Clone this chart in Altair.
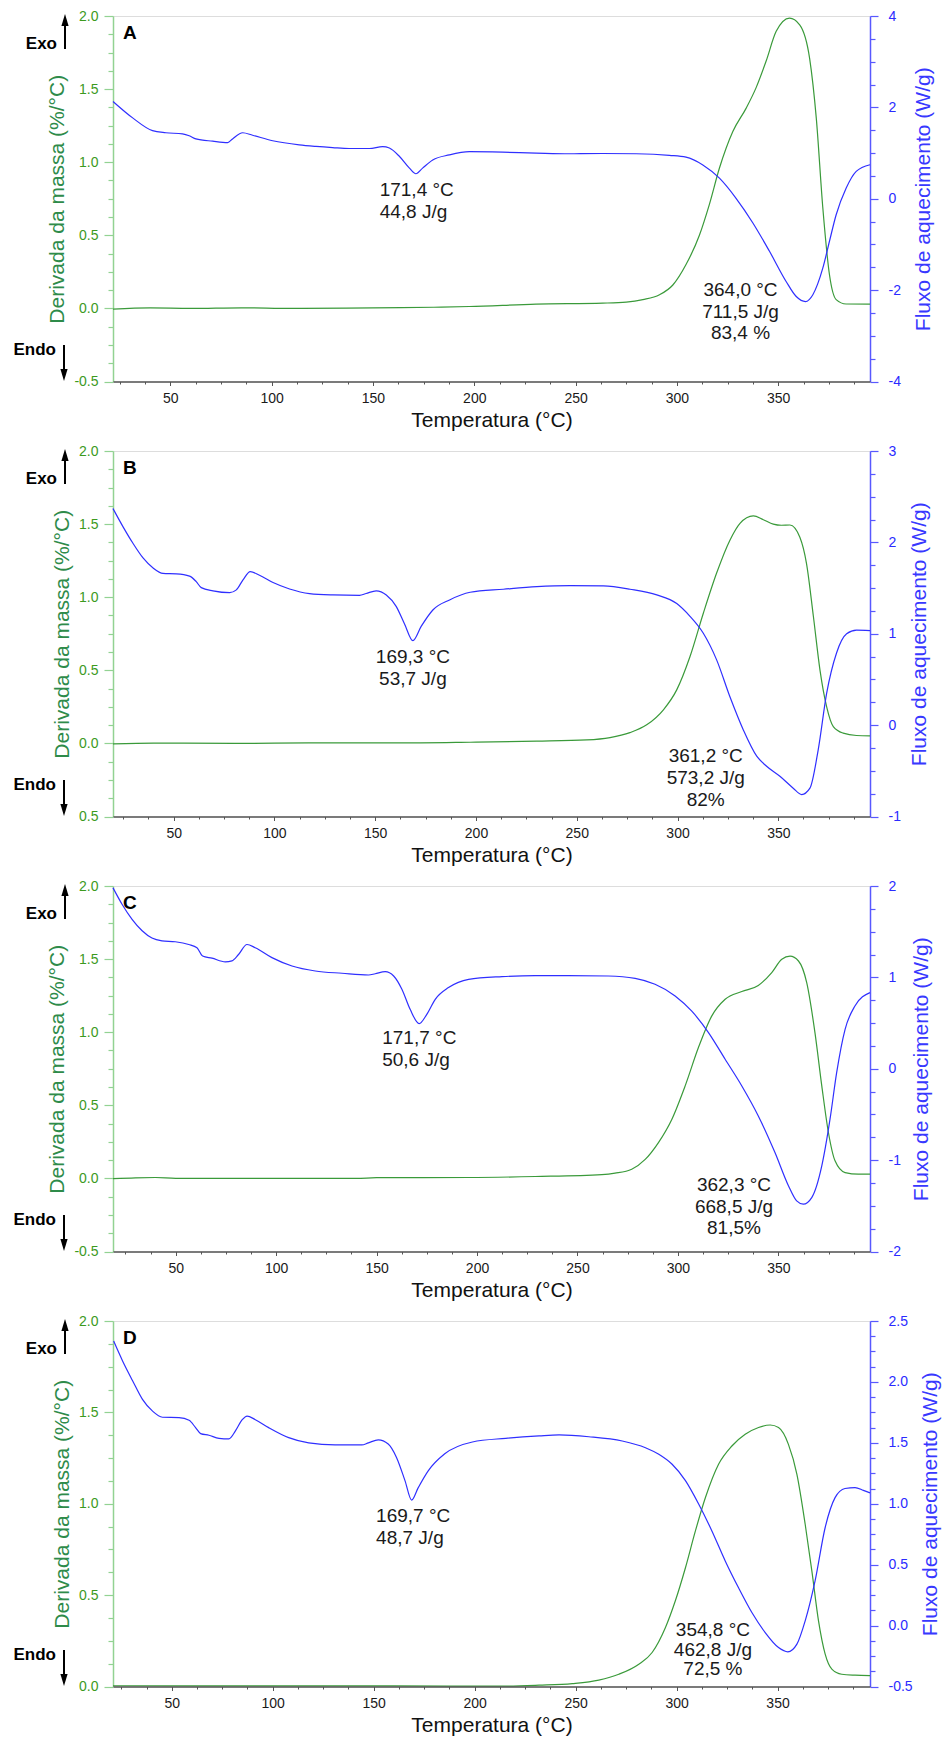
import math
import altair as alt
import pandas as pd

FONT = "Liberation Sans"

# ---------------- Panel A ----------------
A_T_DTG = [21.7, 40, 60, 85, 110, 150, 180, 197.6, 230.5, 263.4, 275, 283.2, 291.4, 298, 304.5, 311.1, 316, 321,
           327.6, 334.2, 339.1, 344, 349, 355.6, 360.6, 365.5, 368.8, 372, 375.3, 378.6, 383.5, 395.3]
A_DTG = [-0.005, 0.003, 0.0, 0.004, 0.0, 0.004, 0.008, 0.013, 0.029, 0.036, 0.043, 0.06, 0.093, 0.16, 0.30, 0.50,
         0.71, 0.96, 1.21, 1.37, 1.51, 1.69, 1.895, 1.986, 1.94, 1.71, 1.30, 0.69, 0.23, 0.06, 0.03, 0.029]
A_T_DSC = [21.7, 31.4, 41.2, 47.8, 56.0, 59.3, 62.6, 70.9, 78.3, 80.7, 85.7, 90.6, 100.5, 113.6, 121.9, 130.1, 138.3,
           148.2, 154.8, 158.1, 163.0, 168.0, 171.2, 174.5, 179.5, 187.7, 197.6, 214.0, 230.5, 246.9, 263.4, 279.9,
           296.3, 304.5, 312.8, 321.0, 329.2, 337.5, 345.7, 353.9, 358.9, 363.5, 367.1, 372.0, 375.3, 378.6, 383.5,
           388.5, 395.3]
A_DSC = [2.13, 1.77, 1.49, 1.445, 1.42, 1.38, 1.31, 1.26, 1.23, 1.31, 1.445, 1.39, 1.27, 1.18, 1.146, 1.12, 1.10,
         1.10, 1.14, 1.11, 0.93, 0.67, 0.547, 0.67, 0.85, 0.96, 1.03, 1.02, 1.0, 0.985, 0.99, 0.985, 0.95, 0.91, 0.74,
         0.45, 0.01, -0.53, -1.15, -1.81, -2.14, -2.25, -2.10, -1.52, -0.93, -0.35, 0.23, 0.60, 0.745]
A_X_DOMAIN = [21.7, 395.3]
A_L_DOMAIN = [-0.5, 2.0]
A_R_DOMAIN = [-4, 4]
A_ANN_T = [153.3, 331.4]
A_ANN_V = [0.766, 0.082]
A_ANN_TEXT = ["171,4 °C\n44,8 J/g", "364,0 °C\n711,5 J/g\n83,4 %"]

# ---------------- Panel B ----------------
B_T_DTG = [19.9, 40, 80, 120, 160, 197.1, 230.2, 255, 266.5, 276.4, 284.7, 293, 299.6, 306.2, 312.8, 319.4, 326, 331,
           337.6, 342.6, 347.5, 351.5, 355.8, 360.7, 364, 367.4, 370.7, 374, 377.3, 382.2, 388.8, 395.5]
B_DTG = [-0.003, 0.002, 0.0, 0.003, 0.003, 0.008, 0.015, 0.024, 0.04, 0.074, 0.127, 0.23, 0.366, 0.594, 0.89, 1.165,
         1.39, 1.505, 1.556, 1.53, 1.50, 1.492, 1.494, 1.41, 1.23, 0.87, 0.50, 0.25, 0.115, 0.07, 0.054, 0.052]
B_T_DSC = [19.9, 24.9, 29.8, 34.8, 39.8, 44.7, 51.3, 57.9, 61.2, 63.7, 69.5, 77.8, 81.1, 84.4, 88.0, 92.6, 99.3,
           107.5, 117.4, 129.0, 142.2, 145.5, 150.5, 155.5, 160.4, 164.5, 168.7, 172.8, 178.6, 186.9, 197.1, 213.6,
           230.2, 246.7, 263.2, 276.4, 289.7, 299.6, 306.2, 312.8, 319.4, 326.0, 332.6, 339.3, 344.2, 350.8, 357.4,
           361.6, 365.7, 369.8, 374.0, 378.9, 383.9, 388.8, 395.5]
B_DSC = [2.37, 2.17, 1.99, 1.83, 1.72, 1.66, 1.655, 1.63, 1.57, 1.505, 1.47, 1.45, 1.48, 1.59, 1.68, 1.64, 1.56, 1.49,
         1.44, 1.425, 1.42, 1.44, 1.47, 1.425, 1.30, 1.11, 0.925, 1.08, 1.26, 1.37, 1.454, 1.487, 1.516, 1.527, 1.523,
         1.487, 1.425, 1.33, 1.19, 1.005, 0.714, 0.31, -0.05, -0.34, -0.45, -0.56, -0.69, -0.76, -0.69, -0.27, 0.35,
         0.79, 1.0, 1.04, 1.035]
B_X_DOMAIN = [19.9, 395.5]
B_L_DOMAIN = [-0.5, 2.0]
B_R_DOMAIN = [-1, 3]
B_ANN_T = [168.7, 314.0]
B_ANN_V = [0.548, -0.128]
B_ANN_TEXT = ["169,3 °C\n53,7 J/g", "361,2 °C\n573,2 J/g\n82%"]

# ---------------- Panel C ----------------
C_T_DTG = [18.8, 30, 40, 50, 100, 140, 150, 195.8, 229, 262.1, 268.7, 277, 283.7, 290.3, 297, 303.6, 310.2, 316.8,
           323.5, 331.8, 340, 346.7, 351.7, 355.8, 360, 364.1, 368.2, 371.6, 374.9, 378.2, 383.2, 389.8, 395.6]
C_DTG = [-0.002, 0.004, 0.006, 0.0, 0.0, 0.0, 0.005, 0.006, 0.013, 0.026, 0.036, 0.063, 0.13, 0.245, 0.405, 0.633,
         0.895, 1.11, 1.225, 1.278, 1.32, 1.408, 1.499, 1.52, 1.487, 1.339, 0.997, 0.633, 0.314, 0.12, 0.04, 0.029,
         0.029]
C_T_DSC = [18.8, 23.3, 28.3, 33.3, 38.2, 43.2, 49.8, 56.5, 60.6, 63.4, 68.1, 74.7, 78.0, 81.3, 85.5, 89.6, 97.9,
           107.9, 119.5, 132.8, 146.0, 149.3, 154.3, 158.5, 162.6, 166.7, 171.2, 175.0, 179.2, 185.8, 195.8, 212.4,
           229.0, 245.5, 265.4, 278.7, 288.6, 298.6, 306.9, 315.2, 323.5, 331.8, 340.0, 348.3, 355.0, 359.1, 362.4,
           366.6, 371.6, 375.7, 379.0, 383.2, 388.1, 395.6]
C_DSC = [1.98, 1.80, 1.635, 1.51, 1.43, 1.40, 1.39, 1.36, 1.325, 1.234, 1.21, 1.17, 1.18, 1.25, 1.36, 1.325, 1.216,
         1.125, 1.07, 1.045, 1.026, 1.04, 1.063, 1.015, 0.87, 0.65, 0.494, 0.596, 0.76, 0.888, 0.979, 1.008, 1.019,
         1.019, 1.015, 0.99, 0.924, 0.797, 0.63, 0.396, 0.104, -0.188, -0.516, -0.917, -1.28, -1.446, -1.482, -1.41,
         -1.063, -0.552, -0.042, 0.432, 0.687, 0.833]
C_X_DOMAIN = [18.8, 395.6]
C_L_DOMAIN = [-0.5, 2.0]
C_R_DOMAIN = [-2, 2]
C_ANN_T = [152.8, 327.9]
C_ANN_V = [0.922, -0.085]
C_ANN_TEXT = ["171,7 °C\n50,6 J/g", "362,3 °C\n668,5 J/g\n81,5%"]

# ---------------- Panel D ----------------
D_T_DTG = [20.9, 100, 160, 215.4, 231.9, 248.4, 261.5, 271.4, 281.3, 287.9, 294.5, 299.4, 304.4, 309.3, 314.3, 320.8,
           327.4, 334, 340.6, 346.4, 350.5, 355.4, 359.6, 363.7, 367, 370.3, 373.6, 376.9, 381.8, 388.4, 395.8]
D_DTG = [0.004, 0.003, 0.003, 0.002, 0.007, 0.016, 0.035, 0.067, 0.122, 0.186, 0.323, 0.469, 0.65, 0.85, 1.034,
         1.216, 1.316, 1.38, 1.417, 1.431, 1.417, 1.325, 1.161, 0.888, 0.633, 0.359, 0.177, 0.095, 0.067, 0.062, 0.06]
D_T_DSC = [21.2, 25.7, 30.6, 35.5, 40.5, 45.4, 53.6, 58.6, 61.8, 64.3, 68.4, 73.4, 78.3, 81.6, 84.9, 87.3, 91.4, 98.0,
           107.9, 117.8, 130.9, 144.1, 147.4, 152.3, 157.2, 161.3, 165.5, 168.8, 172.0, 177.0, 185.2, 198.9, 215.4,
           231.9, 241.8, 256.6, 273.1, 284.6, 291.2, 297.8, 304.4, 311.0, 317.5, 324.1, 330.7, 337.3, 343.9, 350.5,
           355.1, 359.6, 363.7, 368.6, 373.6, 378.5, 383.4, 388.4, 392.5, 395.8]
D_DSC = [2.336, 2.17, 2.01, 1.857, 1.76, 1.71, 1.707, 1.685, 1.625, 1.576, 1.562, 1.537, 1.532, 1.60, 1.69, 1.72,
         1.69, 1.625, 1.543, 1.50, 1.483, 1.483, 1.50, 1.524, 1.49, 1.38, 1.19, 1.03, 1.13, 1.27, 1.41, 1.507, 1.537,
         1.557, 1.565, 1.55, 1.515, 1.46, 1.406, 1.324, 1.19, 0.996, 0.777, 0.531, 0.31, 0.107, -0.057, -0.18, -0.215,
         -0.152, 0.039, 0.367, 0.805, 1.05, 1.125, 1.133, 1.11, 1.089]
D_X_DOMAIN = [20.9, 395.8]
D_L_DOMAIN = [0.0, 2.0]
D_R_DOMAIN = [-0.5, 2.5]
D_ANN_T = [151.2, 318.0]
D_ANN_V = [0.9025, 0.277]
D_ANN_TEXT = ["169,7 °C\n48,7 J/g", "354,8 °C\n462,8 J/g\n72,5 %"]

# ---------------- styling ----------------
GREEN_LINE = "#3a9a3a"
BLUE_LINE = "#2f2fff"
GREEN_AXIS = "#92d292"
GREEN_LABEL = "#3c9a1e"
GREEN_TITLE = "#2e8b4a"
BLUE_AXIS = "#5858ff"
BLUE_LABEL = "#2b2bff"
BLUE_TITLE = "#3838ff"
W, H = 757, 365.5
TICK_FS = 14


def tick_vals(lo, hi, step):
    v = math.ceil(lo / step - 1e-9) * step
    out = []
    while v <= hi + 1e-9:
        out.append(round(v, 6))
        v += step
    return out


def major(m):
    return f"abs(datum.value / {m} - round(datum.value / {m})) < 1e-6"


def panel(letter, t_dtg, dtg, t_dsc, dsc, xdom, ldom, lmaj, lmin, lfmt, keep_minus,
          rdom, rmaj, rmin, rfmt, ann_t, ann_v, ann_text, ann_align, ann_lh, rpad):
    xt = major(50)
    xaxis = alt.Axis(values=tick_vals(xdom[0], xdom[1], 12.5), title="Temperatura (°C)",
                     labelExpr=f"{xt} ? format(datum.value, 'd') : ''",
                     tickSize={"condition": {"test": xt, "value": 4}, "value": 2.5},
                     domainColor="#555555", domainWidth=1.3, tickColor="#555555", tickWidth=1,
                     labelColor="#1a1a1a", labelPadding=6, labelFontSize=TICK_FS, labelFont=FONT,
                     labelFlush=False, labelOverlap=False, zindex=1,
                     titleColor="#111111", titleFontSize=21, titleFont=FONT, titleFontWeight="normal",
                     titlePadding=4, grid=False)
    xenc = alt.X("T:Q", scale=alt.Scale(domain=xdom, nice=False, zero=False), axis=xaxis)

    lt = major(lmaj)
    sign = "(datum.value < 0 ? '-' : '') + " if keep_minus else ""
    laxis = alt.Axis(orient="left", values=tick_vals(ldom[0], ldom[1], lmin),
                     title="Derivada da massa (%/°C)",
                     labelExpr=f"{lt} ? {sign}format(abs(datum.value), '{lfmt}') : ''",
                     tickSize={"condition": {"test": lt, "value": 9}, "value": 5},
                     domainColor=GREEN_AXIS, domainWidth=1.5, tickColor=GREEN_AXIS, tickWidth=1.2,
                     labelColor=GREEN_LABEL, labelPadding=6, labelFontSize=TICK_FS, labelFont=FONT,
                     labelOverlap=False, labelFlush=False,
                     titleColor=GREEN_TITLE, titleFontSize=21, titleFont=FONT, titleFontWeight="normal",
                     titlePadding=6, grid=False)
    lenc = alt.Y("v:Q", scale=alt.Scale(domain=ldom, nice=False, zero=False), axis=laxis)

    rt = major(rmaj)
    raxis = alt.Axis(orient="right", values=tick_vals(rdom[0], rdom[1], rmin),
                     title="Fluxo de aquecimento (W/g)",
                     labelExpr=f"{rt} ? (datum.value < 0 ? '-' : '') + format(abs(datum.value), '{rfmt}') : ''",
                     tickSize={"condition": {"test": rt, "value": 8}, "value": 5},
                     domainColor=BLUE_AXIS, domainWidth=1.5, tickColor=BLUE_AXIS, tickWidth=1.2,
                     labelColor=BLUE_LABEL, labelPadding=10, labelFontSize=TICK_FS, labelFont=FONT,
                     labelOverlap=False, labelFlush=False,
                     titleColor=BLUE_TITLE, titleFontSize=21, titleFont=FONT, titleFontWeight="normal",
                     titleAngle=270, titleBaseline="top", titlePadding=rpad, grid=False)
    renc = alt.Y("w:Q", scale=alt.Scale(domain=rdom, nice=False, zero=False), axis=raxis)

    green = alt.Chart(pd.DataFrame({"T": t_dtg, "v": dtg})).mark_line(
        color=GREEN_LINE, strokeWidth=1.2, interpolate="monotone").encode(x=xenc, y=lenc)
    blue = alt.Chart(pd.DataFrame({"T": t_dsc, "w": dsc})).mark_line(
        color=BLUE_LINE, strokeWidth=1.2, interpolate="monotone").encode(x=xenc, y=renc)

    texts = []
    for t, v, s, a, lh in zip(ann_t, ann_v, ann_text, ann_align, ann_lh):
        texts.append(alt.Chart(pd.DataFrame({"T": [t], "v": [v], "label": [s]})).mark_text(
            align=a, baseline="alphabetic", font=FONT, fontSize=19, lineBreak="\n", lineHeight=lh,
            color="#1a1a1a").encode(x=xenc, y=lenc, text="label:N"))

    one = pd.DataFrame({"k": [0]})
    base = alt.Chart(one)
    deco = [
        base.mark_text(text=letter, font=FONT, fontSize=19, fontWeight="bold", align="left",
                       baseline="middle", color="black").encode(x=alt.value(10), y=alt.value(17)),
        base.mark_text(text="Exo", font=FONT, fontSize=17, fontWeight="bold", align="right",
                       baseline="middle", color="black").encode(x=alt.value(-56), y=alt.value(28)),
        base.mark_rule(color="black", strokeWidth=2).encode(x=alt.value(-48), y=alt.value(33), y2=alt.value(8)),
        base.mark_point(shape="M-0.6,1L0,-1L0.6,1Z", filled=True, size=144, color="black", opacity=1,
                        strokeWidth=0).encode(x=alt.value(-48), y=alt.value(4)),
        base.mark_text(text="Endo", font=FONT, fontSize=17, fontWeight="bold", align="right",
                       baseline="middle", color="black").encode(x=alt.value(-57), y=alt.value(334)),
        base.mark_rule(color="black", strokeWidth=2).encode(x=alt.value(-49), y=alt.value(329), y2=alt.value(356)),
        base.mark_point(shape="M-0.6,-1L0,1L0.6,-1Z", filled=True, size=144, color="black", opacity=1,
                        strokeWidth=0).encode(x=alt.value(-49), y=alt.value(359)),
    ]

    inner = alt.layer(green, *texts, *deco)
    return alt.layer(inner, blue).resolve_scale(y="independent").properties(width=W, height=H)


pA = panel("A", A_T_DTG, A_DTG, A_T_DSC, A_DSC, A_X_DOMAIN, A_L_DOMAIN, 0.5, 0.125, ".1f", True,
           A_R_DOMAIN, 2, 0.5, "d", A_ANN_T, A_ANN_V, A_ANN_TEXT, ["left", "center"], [21.5, 21.5], 12.5)
pB = panel("B", B_T_DTG, B_DTG, B_T_DSC, B_DSC, B_X_DOMAIN, B_L_DOMAIN, 0.5, 0.125, ".1f", False,
           B_R_DOMAIN, 1, 0.25, "d", B_ANN_T, B_ANN_V, B_ANN_TEXT, ["center", "center"], [21.7, 21.7], 8)
pC = panel("C", C_T_DTG, C_DTG, C_T_DSC, C_DSC, C_X_DOMAIN, C_L_DOMAIN, 0.5, 0.125, ".1f", True,
           C_R_DOMAIN, 1, 0.25, "d", C_ANN_T, C_ANN_V, C_ANN_TEXT, ["left", "center"], [22.3, 21.7], 10)
pD = panel("D", D_T_DTG, D_DTG, D_T_DSC, D_DSC, D_X_DOMAIN, D_L_DOMAIN, 0.5, 0.125, ".1f", True,
           D_R_DOMAIN, 0.5, 0.125, ".1f", D_ANN_T, D_ANN_V, D_ANN_TEXT, ["left", "center"], [22.7, 19.7], 7)

chart = alt.vconcat(pA, pB, pC, pD, spacing=69, bounds="flush").properties(
    padding={"left": 13, "top": 8, "right": 2, "bottom": 2}
).configure_view(stroke="#8c8c8c", strokeWidth=1.5).configure(font=FONT)

chart.save("out.html", embed_options={"renderer": "svg", "actions": False})
